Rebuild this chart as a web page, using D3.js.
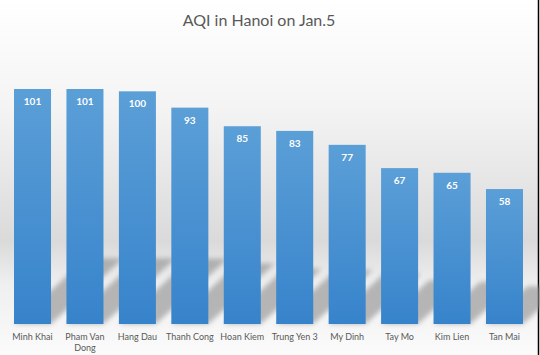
<!DOCTYPE html>
<html>
<head>
<meta charset="utf-8">
<script src="https://cdn.jsdelivr.net/npm/d3@7"></script>
<style>
  html, body { margin: 0; padding: 0; background: #fff; }
  svg { display: block; }
</style>
</head>
<body>
<svg id="chart" width="540" height="355"></svg>
<script>
const stations = ['Minh Khai', 'Pham Van Dong', 'Hang Dau', 'Thanh Cong', 'Hoan Kiem',
  'Trung Yen 3', 'My Dinh', 'Tay Mo', 'Kim Lien', 'Tan Mai'];
const aqi = [101, 101, 100, 93, 85, 83, 77, 67, 65, 58];
const title = 'AQI in Hanoi on Jan.5';

const svg = d3.select('#chart');
const defs = svg.append('defs');

// background: white top, grey band low down, light again at the base
let bg = defs.append('linearGradient').attr('id', 'bg')
  .attr('x1', 0).attr('y1', 0).attr('x2', 0).attr('y2', 1);
[[0, '#ffffff'], [0.3, '#f4f4f4'], [0.68, '#dadada'], [0.8, '#efefef'], [1, '#fbfbfb']]
  .forEach(s => bg.append('stop').attr('offset', s[0]).attr('stop-color', s[1]));

let barGrad = defs.append('linearGradient').attr('id', 'barGrad')
  .attr('x1', 0).attr('y1', 0).attr('x2', 0).attr('y2', 1);
barGrad.append('stop').attr('offset', 0).attr('stop-color', '#5b9fd7');
barGrad.append('stop').attr('offset', 1).attr('stop-color', '#3783cb');

defs.append('filter').attr('id', 'blur')
  .attr('x', '-50%').attr('y', '-50%').attr('width', '200%').attr('height', '200%')
  .append('feGaussianBlur').attr('stdDeviation', 2.5);

svg.append('rect').attr('width', 538).attr('height', 355).attr('fill', 'url(#bg)');
svg.append('line').attr('x1', 538.5).attr('x2', 538.5).attr('y1', 0).attr('y2', 355)
  .attr('stroke', '#000').attr('stroke-width', 1.5);

const x = d3.scaleBand().domain(stations).range([6.3, 530.7])
  .paddingInner(0.294).paddingOuter(0.147);
const y = d3.scaleLinear().domain([0, 120]).range([324, 44.8]);

svg.append('text')
  .attr('x', 259).attr('y', 26)
  .attr('text-anchor', 'middle')
  .attr('font-family', 'Lato, "Open Sans", sans-serif')
  .attr('font-size', 16)
  .attr('fill', '#595959')
  .text(title);

// perspective shadows leaning to the upper right
svg.append('g').attr('filter', 'url(#blur)')
  .selectAll('path').data(stations).join('path')
  .attr('fill', '#8c8c8c').attr('opacity', 0.6)
  .attr('d', (d, i) => {
    let x0 = x(d), w = x.bandwidth(), b = y(0);
    let dy = (y(0) - y(aqi[i])) * 0.28, dx = dy * 1.1;
    return 'M' + x0 + ',' + b + 'L' + (x0 + w) + ',' + b +
      'L' + (x0 + w + dx) + ',' + (b - dy) + 'L' + (x0 + dx) + ',' + (b - dy) + 'Z';
  });

svg.append('g').selectAll('rect').data(stations).join('rect')
  .attr('x', d => x(d))
  .attr('y', (d, i) => y(aqi[i]))
  .attr('width', x.bandwidth())
  .attr('height', (d, i) => y(0) - y(aqi[i]))
  .attr('fill', 'url(#barGrad)');

svg.append('g').selectAll('text').data(stations).join('text')
  .attr('x', d => x(d) + x.bandwidth() / 2)
  .attr('y', (d, i) => y(aqi[i]) + 16)
  .attr('text-anchor', 'middle')
  .attr('font-family', 'Lato, "Open Sans", sans-serif')
  .attr('font-weight', 'bold')
  .attr('font-size', 10)
  .attr('fill', '#fff')
  .text((d, i) => aqi[i]);

// category labels, wrapped like the original ("Pham Van / Dong")
const xAxis = svg.append('g').attr('transform', 'translate(0,324)')
  .call(d3.axisBottom(x).tickSize(0).tickPadding(10));
xAxis.select('.domain').remove();
xAxis.selectAll('text')
  .attr('font-family', 'Lato, "Open Sans", sans-serif')
  .attr('font-size', 9)
  .attr('fill', '#595959')
  .each(function(d) {
    let t = d3.select(this);
    if (d === 'Pham Van Dong') {
      t.text(null);
      t.append('tspan').attr('x', 0).text('Pham Van');
      t.append('tspan').attr('x', 0).attr('dy', '1.2em').text('Dong');
    }
  });
</script>
</body>
</html>
